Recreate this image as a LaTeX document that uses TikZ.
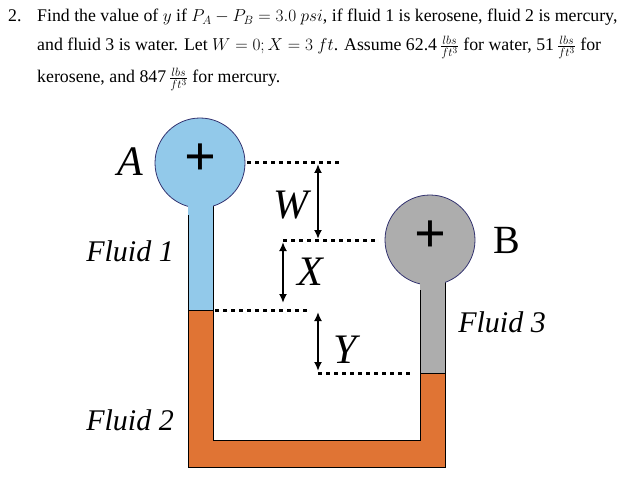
\documentclass[tikz,border=0pt]{standalone}
\usepackage{fontspec}
\setmainfont{Liberation Serif}
\usetikzlibrary{arrows.meta}
\definecolor{fblue}{HTML}{92C9EA}
\definecolor{fgray}{HTML}{ADADAD}
\definecolor{forange}{HTML}{E07434}
\begin{document}
\begin{tikzpicture}[x=1pt,y=-1pt,
  txt/.style={anchor=base west,inner sep=0,font=\fontsize{17.8}{20}\selectfont},
  lab/.style={font=\fontsize{30}{34}\selectfont\itshape\rmfamily},
  big/.style={font=\fontsize{42}{46}\selectfont\itshape},
  dot/.style={line width=3pt,dash pattern=on 4pt off 4pt},
  dim/.style={line width=2.6pt,{Latex[length=9pt,width=8pt]}-{Latex[length=9pt,width=8pt]}},
  wall/.style={draw=black,line width=0.8pt}]
\useasboundingbox (0,0) rectangle (635,492);
\node[txt] (n) at (8,22) {2.};
\node[txt] (l1) at (37,22) {Find the value of $y$ if $P_A-P_B=3.0\ psi$, if fluid 1 is kerosene, fluid 2 is mercury,};
\node[txt] (l2) at (37,51) {and fluid 3 is water. Let $W=0;X=3\ ft$. Assume 62.4\,$\frac{lbs}{ft^3}$ for water, 51\,$\frac{lbs}{ft^3}$ for};
\node[txt] (l3) at (37,83) {kerosene, and 847\,$\frac{lbs}{ft^3}$ for mercury.};
% U tube mercury
\fill[forange] (188,310) -- (188,467) -- (445,467) -- (445,373) -- (420,373) -- (420,440) -- (213,440) -- (213,310) -- cycle;
\fill[fblue] (188,190) rectangle (213,310);
\fill[fgray] (420,265) rectangle (445,373);
\draw[wall] (188,200) -- (188,467) -- (445,467) -- (445,270);
\draw[wall] (213,200) -- (213,440) -- (420,440) -- (420,270);
\draw[wall] (188,310) -- (213,310) (420,373) -- (445,373);
\node[circle,draw=black!60!blue!60!gray,line width=0.8pt,fill=fblue,minimum size=90pt,inner sep=0] (A) at (200,163) {};
\node[circle,draw=black!60!blue!60!gray,line width=0.8pt,fill=fgray,minimum size=90pt,inner sep=0] (B) at (430,240) {};
\fill[fblue] (188.4,195) rectangle (212.6,215);
\fill[fgray] (420.4,270) rectangle (444.6,290);
\node[font=\fontsize{56}{56}\selectfont\bfseries] (pa) at (200,160) {+};
\node[font=\fontsize{56}{56}\selectfont\bfseries] (pb) at (430,237) {+};
% dotted levels
\coordinate (d1a) at (247,163); \coordinate (d1b) at (340,163);
\coordinate (d2a) at (283,240); \coordinate (d2b) at (376,240);
\coordinate (d3a) at (215,310); \coordinate (d3b) at (310,310);
\coordinate (d4a) at (318,373); \coordinate (d4b) at (412,373);
\draw[dot] (d1a) -- (d1b); \draw[dot] (d2a) -- (d2b);
\draw[dot] (d3a) -- (d3b); \draw[dot] (d4a) -- (d4b);
\coordinate (w1) at (318,164); \coordinate (w2) at (318,239);
\coordinate (x1) at (283,242); \coordinate (x2) at (283,303);
\coordinate (y1) at (318,312); \coordinate (y2) at (318,371);
\draw[dim] (w1) -- (w2); \draw[dim] (x1) -- (x2); \draw[dim] (y1) -- (y2);
\node[big] (lw) at (291,205) {W};
\node[big] (lx) at (310,272) {X};
\node[big] (ly) at (345,350) {Y};
\node[big] (la) at (130,162) {A};
\node[font=\fontsize{40}{44}\selectfont] (lb) at (507,240) {B};
\node[lab] (f1) at (130,251) {Fluid 1};
\node[lab] (f2) at (130,420) {Fluid 2};
\node[lab] (f3) at (502,322) {Fluid 3};
\end{tikzpicture}
\end{document}
